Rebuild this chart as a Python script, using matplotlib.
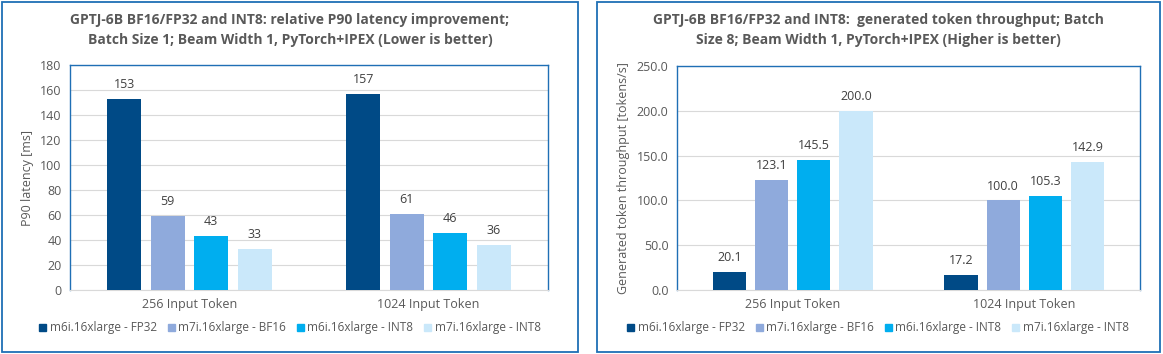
import matplotlib.pyplot as plt
from matplotlib.patches import Rectangle, Patch
import numpy as np

plt.rcParams['font.family'] = ['Open Sans', 'DejaVu Sans']

# --- Data ---
categories = ["256 Input Token", "1024 Input Token"]
series = ["m6i.16xlarge - FP32", "m7i.16xlarge - BF16",
          "m6i.16xlarge - INT8", "m7i.16xlarge - INT8"]
colors = ["#004A86", "#8FAADC", "#00AEEF", "#CAE8FA"]

latency = [[153, 157], [59, 61], [43, 46], [33, 36]]
throughput = [[20.1, 17.2], [123.1, 100.0], [145.5, 105.3], [200.0, 142.9]]

title_left = ("GPTJ-6B BF16/FP32 and INT8: relative P90 latency improvement;\n"
              "Batch Size 1; Beam Width 1, PyTorch+IPEX (Lower is better)")
title_right = ("GPTJ-6B BF16/FP32 and INT8:  generated token throughput; Batch\n"
               "Size 8; Beam Width 1, PyTorch+IPEX (Higher is better)")

W, H = 1163, 354
fig = plt.figure(figsize=(W / 100, H / 100), dpi=100)

border = "#1F6FB5"
txt = "#595959"

# panel frames
for x0, x1 in [(2, 578), (597, 1160)]:
    fig.patches.append(Rectangle((x0 / W, 2 / H), (x1 - x0) / W, (H - 4) / H,
                                 transform=fig.transFigure, fill=False,
                                 edgecolor=border, linewidth=1.3))


def panel(rect, data, ymax, step, fmt, ylabel, title, title_x, ylabel_x):
    ax = fig.add_axes(rect)
    x = np.arange(len(categories))
    width = 0.143
    gap = 0.182
    for i, (vals, c) in enumerate(zip(data, colors)):
        pos = x + (i - 1.5) * gap
        bars = ax.bar(pos, vals, width, color=c, zorder=3)
        for b, v in zip(bars, vals):
            ax.text(b.get_x() + b.get_width() / 2, v + ymax * 0.035, fmt.format(v),
                    ha="center", va="bottom", fontsize=9, color="#404040")
    ax.set_xlim(-0.5, len(categories) - 0.5)
    ax.set_ylim(0, ymax)
    ax.set_yticks(np.arange(0, ymax + step / 2, step))
    ax.set_yticklabels([fmt.format(v) for v in np.arange(0, ymax + step / 2, step)])
    ax.set_xticks(x)
    ax.set_xticklabels(categories)
    ax.tick_params(axis="both", length=0, labelsize=9, colors=txt, pad=6)
    ax.yaxis.grid(True, color="#D9D9D9", linewidth=0.8, zorder=0)
    for s in ["top", "left", "right"]:
        ax.spines[s].set_color(border)
        ax.spines[s].set_linewidth(1.0)
    ax.spines["bottom"].set_color("#D9D9D9")
    fig.text(ylabel_x, (rect[1] + rect[1] + rect[3]) / 2, ylabel, rotation=90,
             ha="center", va="center", fontsize=9, color=txt)
    fig.text(title_x, 1 - 30 / H, title, ha="center", va="center",
             fontsize=10, fontweight="bold", color=txt, linespacing=1.5)
    handles = [Patch(color=c) for c in colors]
    fig.legend(handles, series, loc="center", bbox_to_anchor=(title_x, 1 - 328 / H),
               ncol=4, frameon=False, fontsize=8.5, handlelength=0.6, handleheight=0.6,
               handletextpad=0.3, columnspacing=0.9, labelcolor=txt)
    return ax


panel([70 / W, 64 / H, 478 / W, 225 / H], latency, 180, 20, "{:.0f}",
      "P90 latency [ms]", title_left, 290 / W, 27 / W)
panel([677 / W, 64 / H, 463 / W, 224 / H], throughput, 250, 50, "{:.1f}",
      "Generated token throughput [tokens/s]", title_right, 878 / W, 623 / W)

fig.savefig("out.png", dpi=100)
